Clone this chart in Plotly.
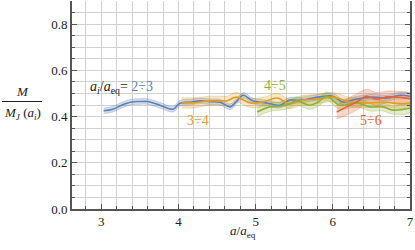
import plotly.graph_objects as go

# ---- data ----
blue_x = [3.03, 3.15, 3.27, 3.39, 3.5, 3.6, 3.76, 3.93, 4.02, 4.15, 4.28, 4.41, 4.54, 4.67, 4.75, 4.84, 4.96, 5.14, 5.31, 5.44, 5.55, 5.66, 5.83, 6.0, 6.13, 6.3, 6.52, 6.7, 6.87, 7.0]
blue_y = [0.425, 0.432, 0.45, 0.463, 0.465, 0.465, 0.449, 0.432, 0.458, 0.462, 0.468, 0.464, 0.462, 0.442, 0.465, 0.492, 0.468, 0.459, 0.449, 0.471, 0.47, 0.475, 0.485, 0.488, 0.463, 0.475, 0.484, 0.48, 0.492, 0.488]
blue_s = [0.012] * len(blue_x)

orange_x = [4.04, 4.19, 4.3, 4.41, 4.58, 4.63, 4.75, 4.93, 5.1, 5.28, 5.44, 5.61, 5.79, 6.0, 6.22, 6.44, 6.65, 6.87, 7.0]
orange_y = [0.459, 0.459, 0.464, 0.468, 0.468, 0.468, 0.484, 0.459, 0.463, 0.48, 0.455, 0.471, 0.475, 0.484, 0.463, 0.459, 0.463, 0.455, 0.458]
orange_s = [0.022, 0.022, 0.02, 0.02, 0.02, 0.02, 0.02, 0.02, 0.02, 0.02, 0.02, 0.02, 0.02, 0.02, 0.02, 0.02, 0.02, 0.02, 0.02]

green_x = [5.02, 5.18, 5.31, 5.42, 5.53, 5.7, 5.82, 5.92, 6.09, 6.31, 6.48, 6.65, 6.78, 7.0]
green_y = [0.42, 0.442, 0.445, 0.452, 0.468, 0.449, 0.465, 0.488, 0.449, 0.459, 0.442, 0.442, 0.428, 0.436]
green_s = [0.02, 0.02, 0.018, 0.018, 0.018, 0.018, 0.018, 0.018, 0.018, 0.018, 0.018, 0.018, 0.018, 0.018]

red_x = [6.05, 6.18, 6.31, 6.44, 6.57, 6.7, 6.87, 7.0]
red_y = [0.42, 0.442, 0.463, 0.488, 0.475, 0.485, 0.483, 0.478]
red_s = [0.03, 0.035, 0.035, 0.03, 0.028, 0.025, 0.025, 0.022]

x_ticks = [3, 4, 5, 6, 7]
y_ticks = [0.0, 0.2, 0.4, 0.6, 0.8]

BLUE = "#5E81B5"
ORANGE = "#E19C24"
GREEN = "#8FB032"
RED = "#EB6235"

def rgba(h, a):
    h = h.lstrip("#")
    return "rgba(%d,%d,%d,%s)" % (int(h[0:2], 16), int(h[2:4], 16), int(h[4:6], 16), a)

fig = go.Figure()
series = [(blue_x, blue_y, blue_s, BLUE), (orange_x, orange_y, orange_s, ORANGE),
          (green_x, green_y, green_s, GREEN), (red_x, red_y, red_s, RED)]
for xs, ys, ss, c in series:
    up = [y + s for y, s in zip(ys, ss)]
    lo = [y - s for y, s in zip(ys, ss)]
    fig.add_trace(go.Scatter(x=xs + xs[::-1], y=up + lo[::-1], fill="toself",
                             fillcolor=rgba(c, 0.25), line=dict(color=rgba(c, 0.4), width=0.8, shape="spline"),
                             hoverinfo="skip", showlegend=False, mode="lines"))
for xs, ys, ss, c in series:
    fig.add_trace(go.Scatter(x=xs, y=ys, mode="lines", line=dict(color=c, width=1.6, shape="spline"),
                             showlegend=False))

serif = "Liberation Serif, Times New Roman, DejaVu Serif, serif"
axcol = "#555555"
gridcol = "#d0d0d0"
fig.update_xaxes(range=[2.62, 7.0], tickvals=x_ticks, ticktext=[str(v) for v in x_ticks],
                 automargin=False,
                 showgrid=True, gridcolor=gridcol, gridwidth=1,
                 ticks="inside", ticklen=5, tickcolor=axcol,
                 minor=dict(dtick=0.2, tick0=3, showgrid=True, gridcolor=gridcol, gridwidth=1,
                            ticks="inside", ticklen=3, tickcolor=axcol),
                 showline=True, linecolor=axcol, linewidth=1.6, zeroline=False,
                 tickfont=dict(family=serif, size=13, color="#222"))
fig.update_yaxes(range=[0, 0.9], tickvals=y_ticks, ticktext=["%.1f" % v for v in y_ticks],
                 automargin=False,
                 showgrid=True, gridcolor=gridcol, gridwidth=1,
                 ticks="inside", ticklen=5, tickcolor=axcol,
                 minor=dict(dtick=0.05, tick0=0, showgrid=True, gridcolor=gridcol, gridwidth=1,
                            ticks="inside", ticklen=3, tickcolor=axcol),
                 showline=True, linecolor=axcol, linewidth=1.6, mirror="ticks", zeroline=False,
                 tickfont=dict(family=serif, size=13, color="#222"))

W, H = 415, 250
L, R, T, B = 72, 5, 1, 41
pw, ph = W - L - R, H - T - B

f = dict(family=serif, size=13, color="#222")
ann = [
    dict(x=22, y=91, text="<i>M</i>", font=f),
    dict(x=22, y=114, text="<i>M<sub>J</sub></i> (<i>a<sub>i</sub></i>)", font=f),
    dict(x=243, y=231, text="<i>a</i>/<i>a</i><sub>eq</sub>", font=f),
    dict(x=121, y=87, text="<i>a<sub>i</sub></i>/<i>a</i><sub>eq</sub>= <span style='color:%s'>2÷3</span>" % BLUE,
         font=dict(family=serif, size=14, color="#222")),
    dict(x=198, y=120, text="3÷4", font=dict(family=serif, size=14, color=ORANGE)),
    dict(x=275, y=85, text="4÷5", font=dict(family=serif, size=14, color=GREEN)),
    dict(x=371, y=120, text="5÷6", font=dict(family=serif, size=14, color=RED)),
]
for a in ann:
    fig.add_annotation(xref="paper", yref="paper", x=(a["x"] - L) / pw, y=1 - (a["y"] - T) / ph,
                       xanchor="center", yanchor="middle", showarrow=False, text=a["text"], font=a["font"])
fig.add_shape(type="line", xref="paper", yref="paper", x0=(2 - L) / pw, x1=(42 - L) / pw,
              y0=1 - (101.5 - T) / ph, y1=1 - (101.5 - T) / ph, line=dict(color="#222", width=1))

fig.update_layout(width=W, height=H, margin=dict(l=L, r=R, t=T, b=B),
                  plot_bgcolor="white", paper_bgcolor="white", showlegend=False,
                  font=dict(family=serif))
fig.write_html("out.html", config={"displayModeBar": False},
               post_script="document.body.style.margin='0';document.body.style.padding='0';"
                           "document.documentElement.style.margin='0';")
